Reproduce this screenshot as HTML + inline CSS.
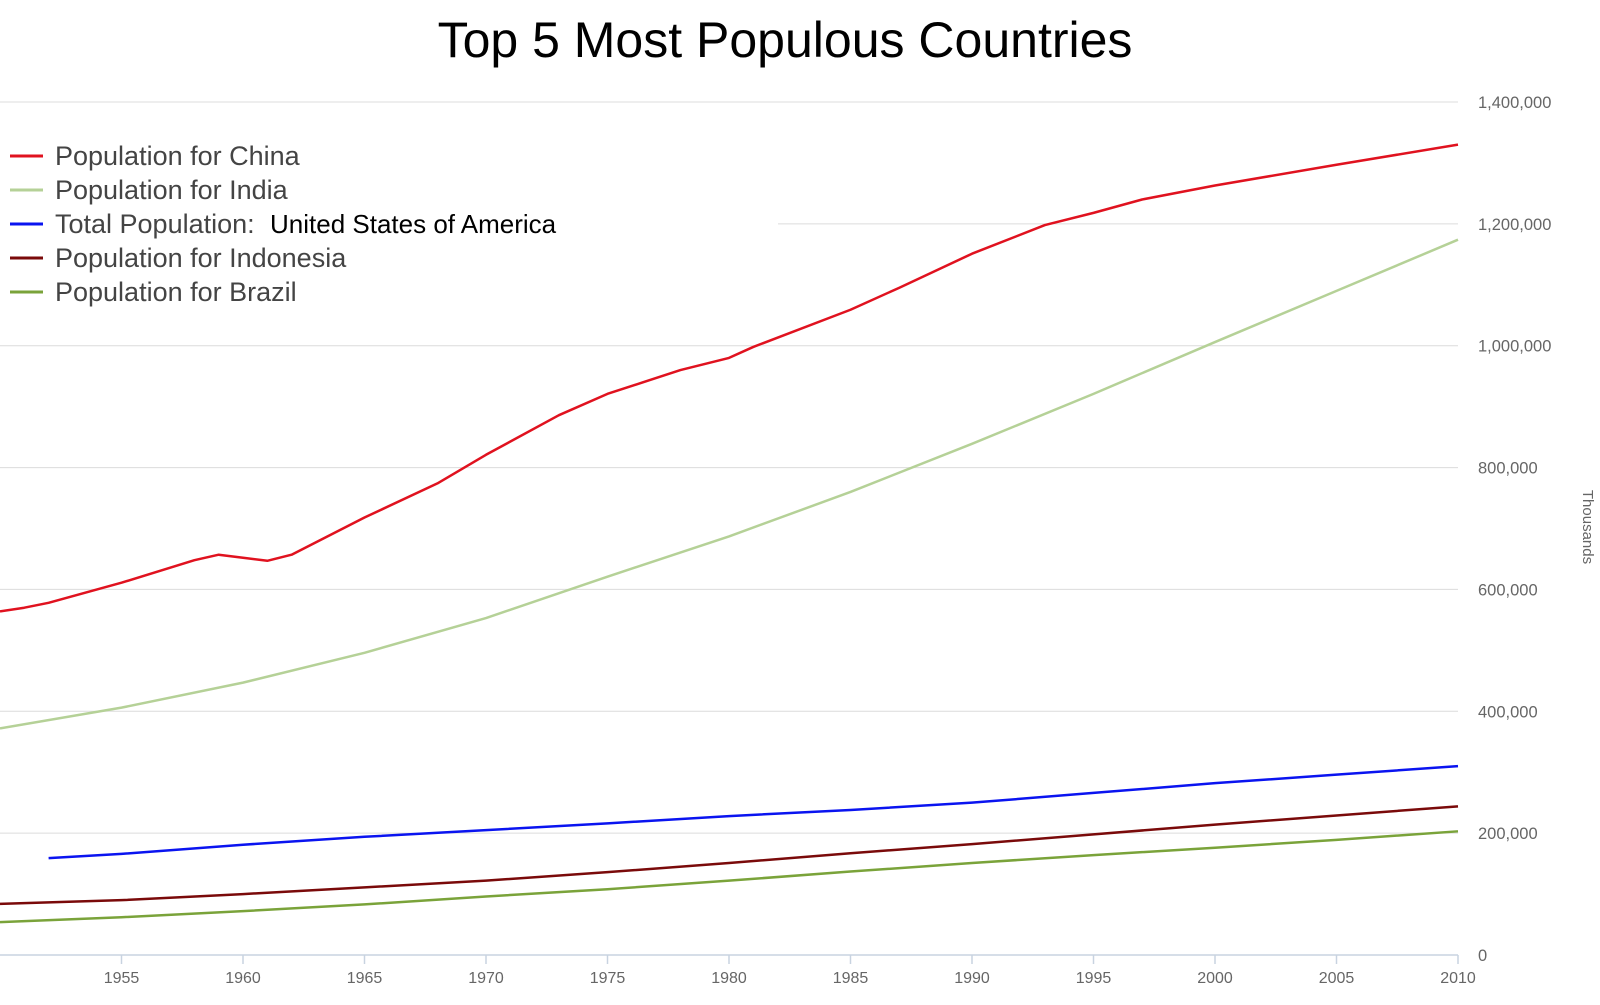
<!DOCTYPE html>
<html><head><meta charset="utf-8"><style>
body{margin:0;background:#fff;width:1600px;height:1000px;overflow:hidden;font-family:"Liberation Sans",sans-serif}
</style></head><body>
<svg id="chart" width="1600" height="1000" xmlns="http://www.w3.org/2000/svg">
<text x="785" y="57" text-anchor="middle" font-family="Liberation Sans" font-size="50" fill="#000">Top 5 Most Populous Countries</text>
<text transform="translate(1583,527) rotate(90)" text-anchor="middle" font-size="15" fill="#666">Thousands</text>
<g id="grid"></g><g id="axes"></g><g id="series"></g>
<g id="legend"></g>
</svg>
<script>
const yearsChina=[1950,1951,1952,1955,1958,1959,1960,1961,1962,1965,1968,1970,1973,1975,1978,1980,1981,1985,1987,1990,1993,1995,1997,2000,2005,2010];
const valsChina=[564,570,578,611,648,657,652,647,657,718,774,821,886,921,960,980,998,1059,1095,1151,1198,1218,1240,1263,1297,1330];
const years5=[1950,1955,1960,1965,1970,1975,1980,1985,1990,1995,2000,2005,2010];
const valsIndia=[372,406,447,496,553,621,687,760,839,921,1006,1090,1174];
const yearsUSA=[1952,1955,1960,1965,1970,1975,1980,1985,1990,1995,2000,2005,2010];
const valsUSA=[159,166,181,194,205,216,228,238,250,266,282,296,310];
const valsIndonesia=[84,90,100,111,122,136,151,167,182,198,214,229,244];
const valsBrazil=[54,62,72,83,96,108,122,137,151,164,176,189,203];
const yTicks=[0,200000,400000,600000,800000,1000000,1200000,1400000];
const xTicks=[1955,1960,1965,1970,1975,1980,1985,1990,1995,2000,2005,2010];
const legendLabels=["Population for China","Population for India","Total Population:","Population for Indonesia","Population for Brazil"];
const colors=["#e0121f","#b5d197","#0a14f0","#7a0a0a","#7aa33a"];

const NS="http://www.w3.org/2000/svg";
const X=y=>(y-1950)/60*1458;
const Y=v=>955-v/1400000*853;
function mk(t,a,p){const e=document.createElementNS(NS,t);for(const k in a)e.setAttribute(k,a[k]);p.appendChild(e);return e;}
const grid=document.getElementById('grid'),axes=document.getElementById('axes'),ser=document.getElementById('series'),leg=document.getElementById('legend');
yTicks.forEach(v=>{
  if(v>0){const l=mk('line',{x1:v===1200000?778:0,x2:1458,y1:Y(v),y2:Y(v),stroke:'#dcdcdc','stroke-width':1},grid);
  
  }
  const t=mk('text',{x:1478,y:Y(v)+6,'font-size':16.5,fill:'#666'},axes);t.textContent=v.toLocaleString('en-US');
  
  
});
const ax=mk('line',{x1:0,x2:1458,y1:955,y2:955,stroke:'#c8d3e0','stroke-width':1.5},axes);


xTicks.forEach(yr=>{
  const tk=mk('line',{x1:X(yr),x2:X(yr),y1:955,y2:964,stroke:'#c8d3e0','stroke-width':1.5},axes);
  
  
  const t=mk('text',{x:X(yr),y:983,'font-size':16,fill:'#666','text-anchor':'middle'},axes);t.textContent=yr;
  
  
});
function line(xs,vs,c,name){
  const p=mk('polyline',{points:xs.map((x,i)=>X(x)+','+Y(vs[i]*1000)).join(' '),fill:'none',stroke:c,'stroke-width':2.5,'stroke-linejoin':'round'},ser);
  
  
}
line(years5,valsBrazil,colors[4],'line-brazil');
line(years5,valsIndonesia,colors[3],'line-indonesia');
line(yearsUSA,valsUSA,colors[2],'line-usa');
line(years5,valsIndia,colors[1],'line-india');
line(yearsChina,valsChina,colors[0],'line-china');
legendLabels.forEach((lab,i)=>{
  const yy=156+i*34;
  const sw=mk('line',{x1:10,x2:43,y1:yy,y2:yy,stroke:colors[i],'stroke-width':3},leg);
  
  
  const t=mk('text',{x:55,y:yy+9,'font-size':27,fill:'#444'},leg);t.textContent=lab;
  
  
  if(i===2){const t2=mk('text',{x:270,y:yy+9,'font-size':26,fill:'#000'},leg);t2.textContent='United States of America';
  
  }
});
</script>
</body></html>
